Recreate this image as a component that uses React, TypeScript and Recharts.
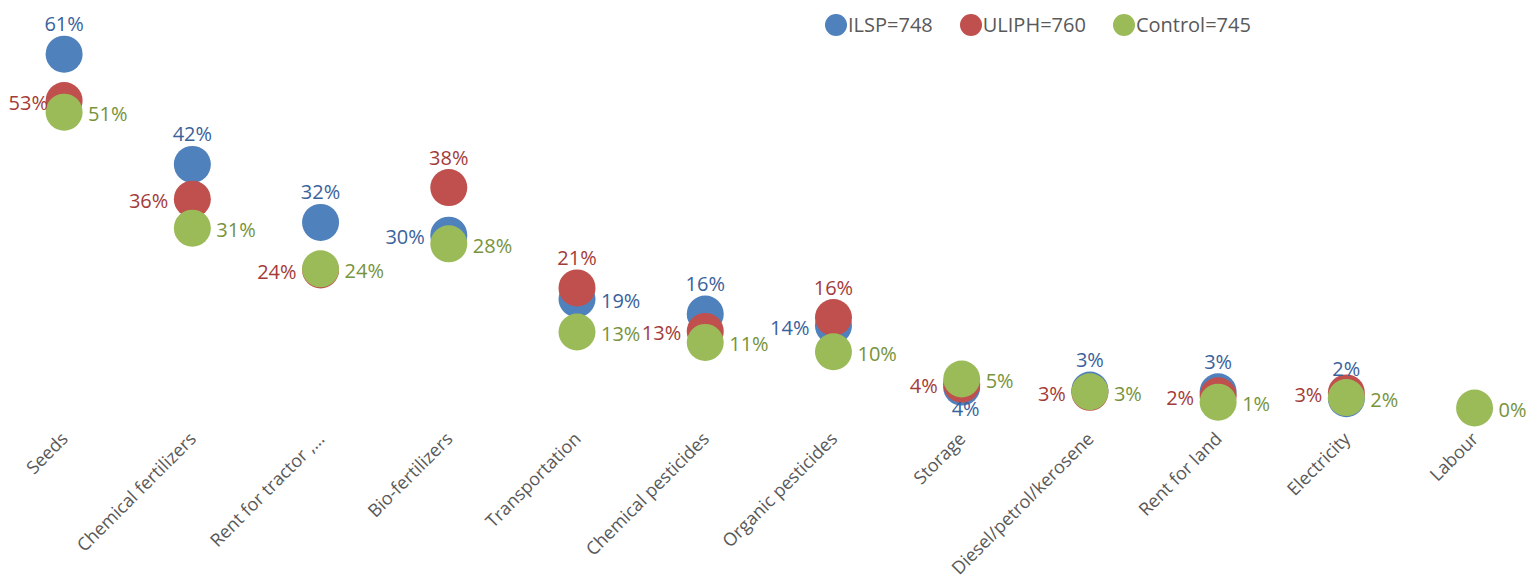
import React from "react"
import { Scatter, ScatterChart, XAxis, YAxis } from "recharts"

const CATEGORIES = [
  "Seeds",
  "Chemical fertilizers",
  "Rent for tractor ,…",
  "Bio-fertilizers",
  "Transportation",
  "Chemical pesticides",
  "Organic pesticides",
  "Storage",
  "Diesel/petrol/kerosene",
  "Rent for land",
  "Electricity",
  "Labour",
]

// share of households (%)
const ILSP = [61, 42, 32, 29.8, 18.8, 16.2, 14.2, 3.6, 3.1, 2.8, 1.6, null]
const ULIPH = [53, 36, 23.8, 38, 20.7, 13.2, 15.6, 4.1, 2.7, 2.1, 2.6, null]
const CONTROL = [51, 31, 24, 28.3, 13.1, 11.3, 9.7, 5, 2.8, 1, 1.8, 0]

// where each data label sits relative to its marker
const ILSP_LABELS = ["top", "top", "top", "left", "right", "top", "left", "bottom", "top", "top", "top", null]
const ULIPH_LABELS = ["left", "left", "left", "top", "top", "left", "top", "left", "left", "left", "left", null]
const CONTROL_LABELS = CATEGORIES.map(() => "right")

const FONT = "'Open Sans', sans-serif"

const SERIES = [
  { name: "ILSP=748", values: ILSP, labels: ILSP_LABELS, fill: "#4F81BD", text: "#3A629B" },
  { name: "ULIPH=760", values: ULIPH, labels: ULIPH_LABELS, fill: "#C0504D", text: "#A33B39" },
  { name: "Control=745", values: CONTROL, labels: CONTROL_LABELS, fill: "#9BBB59", text: "#77933C" },
]

function toPoints(values: (number | null)[], labels: (string | null)[]) {
  return values
    .map((v, i) => ({ x: i, y: v, pos: labels[i] }))
    .filter((p) => p.y !== null)
}

function Dot(props: any) {
  const { cx, cy, fill } = props
  return <circle cx={cx} cy={cy} r={18.5} fill={fill} />
}

function makeLabel(color: string) {
  return (props: any) => {
    const { cx, cy, payload } = props
    const text = `${Math.round(payload.y)}%`
    let x = cx
    let y = cy - 23
    let anchor: "start" | "middle" | "end" = "middle"
    if (payload.pos === "left") {
      // keep it inside the chart, as the original does for the first column
      x = Math.max(cx - 24, 48)
      y = cy + 9
      anchor = "end"
    } else if (payload.pos === "right") {
      x = cx + 24
      y = cy + 9
      anchor = "start"
    } else if (payload.pos === "bottom") {
      x = cx + 4
      y = cy + 29
    }
    return (
      <text x={x} y={y} textAnchor={anchor} fill={color} fontSize={20} fontFamily={FONT}>
        {text}
      </text>
    )
  }
}

function CategoryTick(props: any) {
  const { x, payload } = props
  const ax = x + 5
  const ay = 440
  return (
    <text
      x={ax}
      y={ay}
      textAnchor="end"
      transform={`rotate(-45, ${ax}, ${ay})`}
      fill="#595959"
      fontSize={18}
      fontFamily={FONT}
    >
      {CATEGORIES[payload.value]}
    </text>
  )
}

function ChartLegend() {
  return (
    <div
      style={{
        position: "absolute",
        left: 825,
        top: 13,
        display: "flex",
        gap: 27,
        fontFamily: FONT,
        fontSize: 20,
        lineHeight: "24px",
        color: "#595959",
        whiteSpace: "nowrap",
      }}
    >
      {SERIES.map((s) => (
        <div key={s.name} style={{ display: "flex", alignItems: "center" }}>
          <span
            style={{
              display: "inline-block",
              width: 22,
              height: 22,
              borderRadius: 11,
              background: s.fill,
              marginRight: 1,
            }}
          />
          <span>{s.name}</span>
        </div>
      ))}
    </div>
  )
}

export default function App() {
  return (
    <div style={{ position: "absolute", left: 0, top: 0, width: 1531, height: 580, background: "#fff" }}>
      <ScatterChart width={1531} height={580} margin={{ top: 2, right: 0, bottom: 0, left: 0 }}>
        <XAxis
          type="number"
          dataKey="x"
          domain={[-0.5, 11.44]}
          ticks={CATEGORIES.map((_, i) => i)}
          interval={0}
          axisLine={false}
          tickLine={false}
          height={172}
          tick={<CategoryTick />}
        />
        <YAxis type="number" dataKey="y" domain={[0, 70]} hide />
        {SERIES.map((s) => (
          <Scatter
            key={s.name}
            name={s.name}
            data={toPoints(s.values, s.labels)}
            fill={s.fill}
            shape={<Dot />}
            isAnimationActive={false}
          />
        ))}
        {SERIES.map((s) => (
          <Scatter
            key={s.name + "-labels"}
            name={s.name + " labels"}
            data={toPoints(s.values, s.labels)}
            legendType="none"
            shape={makeLabel(s.text)}
            isAnimationActive={false}
          />
        ))}
      </ScatterChart>
      <ChartLegend />
    </div>
  )
}
